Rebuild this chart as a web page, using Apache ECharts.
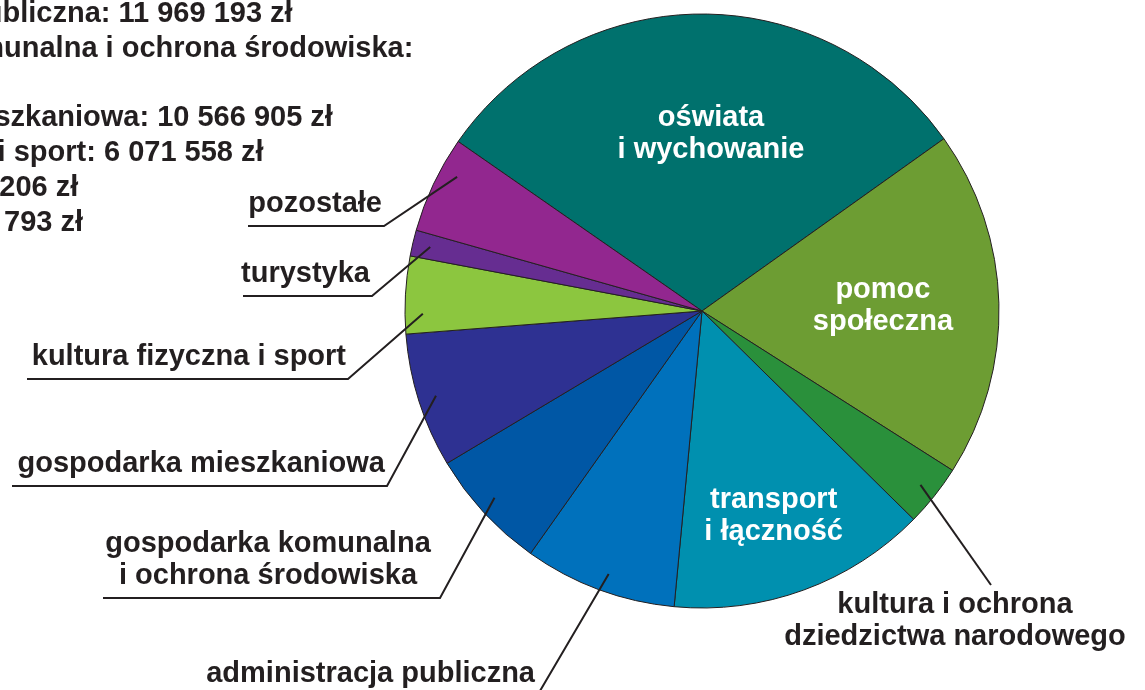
<!DOCTYPE html>
<html>
<head>
<meta charset="utf-8">
<script src="https://cdn.jsdelivr.net/npm/echarts@6/dist/echarts.min.js"></script>
<style>
  html, body { margin: 0; padding: 0; background: #fff; }
  #chart { width: 1145px; height: 690px; }
</style>
</head>
<body>
<div id="chart"></div>
<script>
// kolejność zgodnie z ruchem wskazówek zegara, od "oświata i wychowanie"
const categories = [
  'oświata i wychowanie',
  'pomoc społeczna',
  'kultura i ochrona dziedzictwa narodowego',
  'transport i łączność',
  'administracja publiczna',
  'gospodarka komunalna i ochrona środowiska',
  'gospodarka mieszkaniowa',
  'kultura fizyczna i sport',
  'turystyka',
  'pozostałe'
]
const values = [43950000, 27200000, 4840000, 20360000, 11969193, 9560000, 10566905, 6071558, 2041206, 7612793]
const labelTexts = [
  'oświata\ni wychowanie',
  'pomoc\nspołeczna',
  'kultura i ochrona\ndziedzictwa narodowego',
  'transport\ni łączność',
  'administracja publiczna',
  'gospodarka komunalna\ni ochrona środowiska',
  'gospodarka mieszkaniowa',
  'kultura fizyczna i sport',
  'turystyka',
  'pozostałe'
]
const colors = ['#00716D', '#6D9D33', '#2A903B', '#0090AF', '#0071BC', '#0057A5', '#2E3192', '#8CC63F', '#662D91', '#92278F']
const listIdx = [4, 5, 6, 7, 8, 9]

const CENTER = [702, 311]
const RADIUS = 297
const ink = '#231F20'
const font = '"Liberation Sans", Arial, sans-serif'

// etykiety wewnątrz wycinków: odległość od środka i drobne przesunięcie
const insideSpots = { 0: { r: 177, dx: 10 }, 1: { r: 181, dx: 0 }, 3: { r: 218, dx: -3 } }
// etykiety zewnętrzne: załamanie linii, lewy koniec podkreślenia, obrót początku linii (stopnie)
const outsideSpots = {
  2: { end: [991, 585], x: 955, y: 589 },
  4: { elbow: [537, 696], left: 200, da: 0.8 },
  5: { elbow: [440, 598], left: 103, x: 268, align: 'center', da: -0.8 },
  6: { elbow: [387, 486], left: 12 },
  7: { elbow: [348, 379], left: 27, da: 3.7 },
  8: { elbow: [372, 296], left: 243 },
  9: { elbow: [384, 226], left: 248, da: -3.4 }
}

function fmt(v) {
  return String(v).replace(/\B(?=(\d{3})+(?!\d))/g, ' ')
}

const listText = listIdx.map(i => i === 5
  ? categories[i] + ':\n' + fmt(values[i]) + ' zł'
  : categories[i] + ': ' + fmt(values[i]) + ' zł').join('\n')

function placeLabel(params) {
  const i = params.dataIndex
  if (insideSpots[i]) {
    const s = insideSpots[i]
    const r = params.labelRect
    const vx = r.x + r.width / 2 - CENTER[0]
    const vy = r.y + r.height / 2 - CENTER[1]
    const len = Math.sqrt(vx * vx + vy * vy) || 1
    return { x: CENTER[0] + vx / len * s.r + s.dx, y: CENTER[1] + vy / len * s.r }
  }
  const s = outsideSpots[i]
  const p0 = params.labelLinePoints[0]
  // linia zaczyna się wewnątrz wycinka
  const vx = p0[0] - CENTER[0]
  const vy = p0[1] - CENTER[1]
  const ang = Math.atan2(-vy, vx) + (s.da || 0) * Math.PI / 180
  const rr = Math.sqrt(vx * vx + vy * vy) * 0.94
  const start = [CENTER[0] + rr * Math.cos(ang), CENTER[1] - rr * Math.sin(ang)]
  if (s.end) {
    return { x: s.x, y: s.y, align: 'center', verticalAlign: 'top', labelLinePoints: [start, s.end, s.end] }
  }
  return {
    x: s.x != null ? s.x : s.elbow[0] - 2,
    y: s.elbow[1] - 6,
    align: s.align || 'right',
    verticalAlign: 'bottom',
    labelLinePoints: [start, s.elbow, [s.left, s.elbow[1]]]
  }
}

const base = {
  type: 'pie',
  center: CENTER,
  radius: [0, RADIUS],
  startAngle: 145.2,
  clockwise: true,
  avoidLabelOverlap: false,
  emphasis: { disabled: true },
  silent: true
}

const chart = echarts.init(document.getElementById('chart'))
chart.setOption({
  animation: false,
  graphic: [{
    type: 'text',
    x: -228,
    y: -3,
    style: {
      text: listText,
      font: 'bold 29px ' + font,
      fill: ink,
      lineHeight: 34.7
    }
  }],
  series: [
    Object.assign({}, base, {
      z: 2,
      itemStyle: { borderColor: ink, borderWidth: 1 },
      label: { show: false },
      labelLine: { show: false },
      data: values.map((v, i) => ({ name: categories[i], value: v, itemStyle: { color: colors[i] } }))
    }),
    // warstwa z etykietami nad wycinkami
    Object.assign({}, base, {
      z: 3,
      itemStyle: { color: 'rgba(0,0,0,0)', borderWidth: 0 },
      label: {
        show: true,
        position: 'outside',
        formatter: p => labelTexts[p.dataIndex],
        color: ink,
        fontFamily: font,
        fontWeight: 'bold',
        fontSize: 29,
        lineHeight: 32
      },
      labelLine: { show: true, lineStyle: { color: ink, width: 2 } },
      labelLayout: placeLabel,
      data: values.map((v, i) => ({
        name: categories[i],
        value: v,
        label: insideSpots[i] ? { position: 'inside', color: '#fff', align: 'center' } : {},
        labelLine: { show: !insideSpots[i] }
      }))
    })
  ]
})
</script>
</body>
</html>
